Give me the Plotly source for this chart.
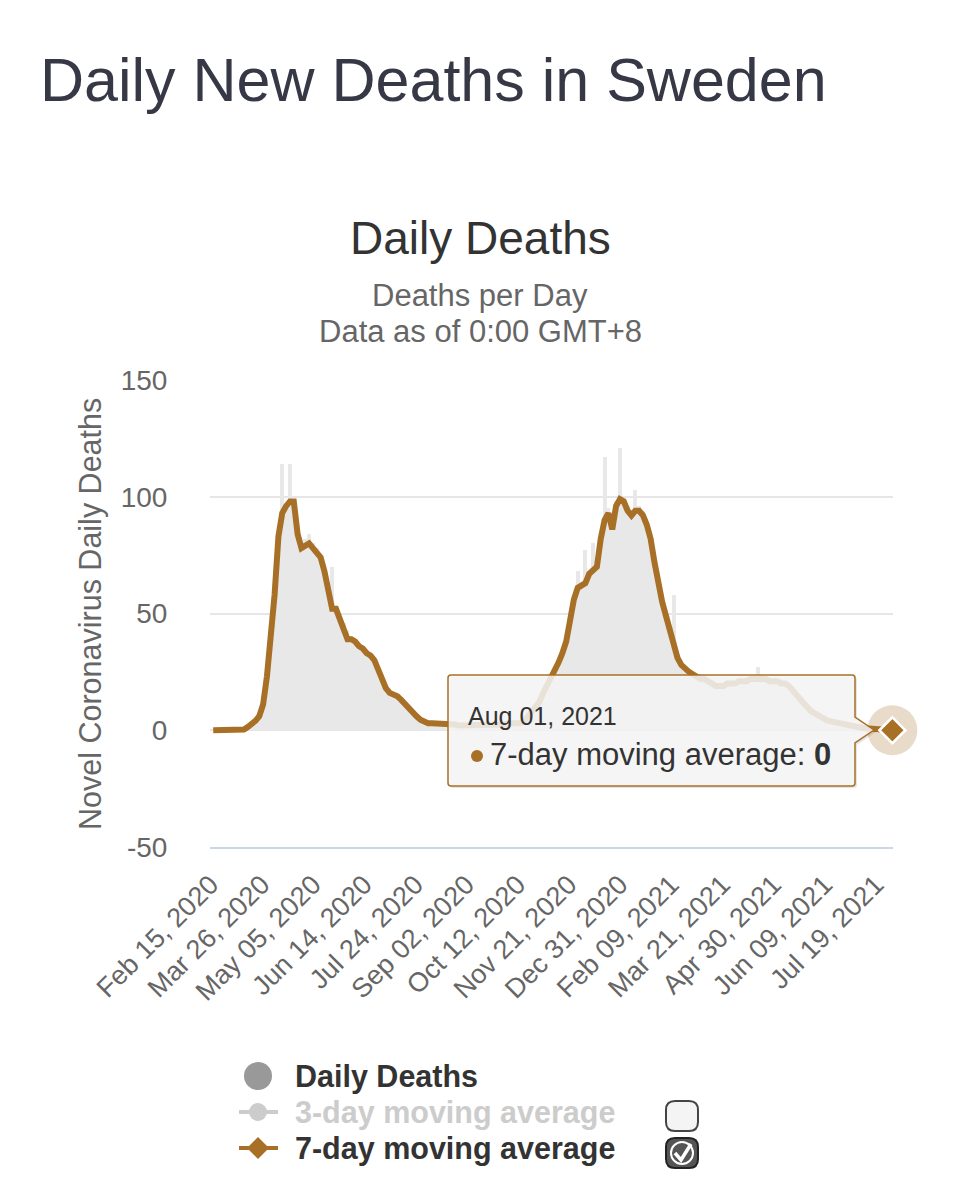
import pandas as pd
import plotly.graph_objects as go

# ---------------- data (every 3rd day) ----------------
start_date = "2020-02-17"
avg_7day = [
    0, 0, 0, 0, 0, 0, 0, 0, 0.3, 1.4,
    2.5, 4, 6, 11, 23, 38, 58, 83, 93, 96,
    98, 98, 84, 78, 79, 80, 78, 76, 74, 68,
    60, 52, 52, 48, 44, 39, 39, 38, 36, 35,
    33, 32, 30, 26, 22, 18, 16, 15.5, 14.5, 13,
    11, 9, 7.5, 6, 4.5, 3.5, 3, 3, 3, 3,
    3, 3, 2.5, 2.5, 2, 2, 2, 2, 2, 2,
    2, 2, 2, 2, 2, 2.5, 2.5, 3, 3, 3,
    3, 4, 6, 8, 10, 12, 16, 19, 22, 25,
    29, 33, 38, 47, 56, 61, 62, 63, 67, 69,
    70, 82, 90, 93, 86, 96, 99, 98, 94, 92,
    94, 94, 92, 88, 82, 72, 62, 55, 49, 43,
    35, 31, 28, 26, 25, 24, 23, 22, 22, 21,
    20, 19, 19, 19, 20, 20, 20, 21, 21, 21,
    22, 22, 22, 22, 22, 21, 21, 21, 20, 20,
    19, 17, 15, 12.5, 11, 9.5, 8, 7, 6, 5,
    4.2, 3.8, 3.4, 3.1, 2.9, 2.6, 2.2, 1.8, 1.4, 1.1,
    0.9, 0.7, 0.5, 0.4, 0.3, 0.2, 0.1, 0,
]
daily_deaths = [
    0, 0, 0, 0, 0, 0, 0, 0, 0, 1,
    2, 4, 7, 12, 26, 40, 62, 86, 114, 97,
    114, 99, 86, 80, 82, 84, 80, 78, 75, 70,
    62, 70, 53, 49, 46, 43, 40, 39, 37, 36,
    34, 33, 31, 27, 23, 19, 17, 16, 15, 13,
    11, 9, 8, 6, 5, 4, 3, 3, 3, 3,
    3, 3, 3, 3, 2, 2, 2, 2, 2, 2,
    2, 2, 2, 2, 2, 3, 3, 3, 3, 3,
    3, 4, 6, 8, 10, 13, 16, 19, 22, 26,
    30, 34, 40, 49, 58, 68, 63, 77, 68, 80,
    72, 84, 117, 95, 88, 98, 121, 100, 96, 93,
    103, 96, 94, 87, 84, 74, 63, 57, 50, 44,
    58, 32, 29, 27, 26, 25, 24, 23, 23, 22,
    21, 20, 20, 20, 21, 21, 21, 22, 22, 22,
    23, 23, 27, 23, 23, 23, 22, 22, 22, 21,
    20, 18, 16, 13, 12, 10, 9, 7, 6, 5,
    4, 4, 3, 3, 3, 3, 2, 2, 1, 1,
    1, 1, 1, 0, 0, 0, 0, 0,
]
y_ticks = [-50, 0, 50, 100, 150]
y_tick_labels = ["-50", "0", "50", "100", "150"]
legend_items = ["Daily Deaths", "3-day moving average", "7-day moving average"]

dates = pd.date_range(start_date, periods=len(avg_7day), freq="3D")

# ---------------- layout helpers ----------------
W, H = 957, 1200
L, R, T, B = 210, 893, 380, 847
FONT = "Liberation Sans, Arial, Helvetica, sans-serif"
BROWN = "#a87026"
DAY = 86400000


def X(px):
    return (px - L) / (R - L)


def Y(py):
    return (B - py) / (B - T)


def path(points_px, close=True):
    s = ""
    for i, p in enumerate(points_px):
        if p[0] == "Q":
            s += f" Q{X(p[1]):.5f},{Y(p[2]):.5f} {X(p[3]):.5f},{Y(p[4]):.5f}"
        else:
            s += (" M" if i == 0 else " L") + f"{X(p[0]):.5f},{Y(p[1]):.5f}"
    return s + (" Z" if close else "")


fig = go.Figure()

fig.add_trace(go.Bar(
    x=dates, y=daily_deaths, width=3 * DAY,
    marker=dict(color="#e8e8e8", line=dict(width=0)),
    name=legend_items[0], hoverinfo="skip",
))
fig.add_trace(go.Scatter(
    x=dates, y=avg_7day, mode="lines",
    line=dict(color=BROWN, width=6), name=legend_items[2], hoverinfo="skip",
))
# hovered point (last point of the 7-day series)
fig.add_trace(go.Scatter(
    x=[dates[-1]], y=[avg_7day[-1]], mode="markers", cliponaxis=False,
    marker=dict(size=50, color="rgba(168,112,38,0.25)", line=dict(width=0)),
    hoverinfo="skip",
))
fig.add_trace(go.Scatter(
    x=[dates[-1]], y=[avg_7day[-1]], mode="markers", cliponaxis=False,
    marker=dict(symbol="diamond", size=20, color=BROWN, line=dict(color="white", width=2.5)),
    hoverinfo="skip",
))

shapes = []
annotations = []

# tooltip (shadow + box)
tip = [(448, 678), ("Q", 448, 675, 451, 675), (852, 675), ("Q", 855, 675, 855, 678),
       (855, 717), (874, 730), (855, 743), (855, 783), ("Q", 855, 786, 852, 786),
       (451, 786), ("Q", 448, 786, 448, 783)]
shadow = [(p[0], p[1] + 2, p[2] + 2, p[3] + 2, p[4] + 2) if p[0] == "Q" else (p[0] + 2, p[1] + 2) for p in tip]
shapes.append(dict(type="path", xref="paper", yref="paper", path=path(shadow),
                   fillcolor="rgba(0,0,0,0.10)", line=dict(width=0), layer="above"))
shapes.append(dict(type="path", xref="paper", yref="paper", path=path(tip),
                   fillcolor="rgba(247,247,247,0.86)", line=dict(color=BROWN, width=1.5), layer="above"))
shapes.append(dict(type="circle", xref="paper", yref="paper", xsizemode="pixel", ysizemode="pixel",
                   xanchor=X(477), yanchor=Y(756), x0=-6, x1=6, y0=-6, y1=6,
                   fillcolor=BROWN, line=dict(width=0), layer="above"))
annotations.append(dict(xref="paper", yref="paper", x=X(466), y=Y(716), xanchor="left", yanchor="middle",
                        text=dates[-1].strftime("%b %d, %Y"), showarrow=False,
                        font=dict(family=FONT, size=25, color="#333333")))
annotations.append(dict(xref="paper", yref="paper", x=X(488), y=Y(754), xanchor="left", yanchor="middle",
                        text=f"7-day moving average: <b>{avg_7day[-1]:g}</b>", showarrow=False,
                        font=dict(family=FONT, size=31, color="#333333")))

# titles
annotations.append(dict(xref="paper", yref="paper", x=X(38), y=Y(80), xanchor="left", yanchor="middle",
                        text="Daily New Deaths in Sweden", showarrow=False,
                        font=dict(family=FONT, size=61, color="#363945")))
annotations.append(dict(xref="paper", yref="paper", x=X(480), y=Y(238), xanchor="center", yanchor="middle",
                        text="Daily Deaths", showarrow=False,
                        font=dict(family=FONT, size=46, color="#333333")))
annotations.append(dict(xref="paper", yref="paper", x=X(480), y=Y(295), xanchor="center", yanchor="middle",
                        text="Deaths per Day", showarrow=False,
                        font=dict(family=FONT, size=31, color="#666666")))
annotations.append(dict(xref="paper", yref="paper", x=X(480), y=Y(332), xanchor="center", yanchor="middle",
                        text="Data as of 0:00 GMT+8", showarrow=False,
                        font=dict(family=FONT, size=31, color="#666666")))
annotations.append(dict(xref="paper", yref="paper", x=X(90), y=Y(614), xanchor="center", yanchor="middle",
                        text="Novel Coronavirus Daily Deaths", textangle=-90, showarrow=False,
                        font=dict(family=FONT, size=30.5, color="#666666")))

# legend
leg_y = [1076, 1112, 1148]
shapes.append(dict(type="circle", xref="paper", yref="paper", xsizemode="pixel", ysizemode="pixel",
                   xanchor=X(258), yanchor=Y(leg_y[0]), x0=-14, x1=14, y0=-14, y1=14,
                   fillcolor="#999999", line=dict(width=0)))
shapes.append(dict(type="line", xref="paper", yref="paper", x0=X(239), x1=X(278), y0=Y(leg_y[1]), y1=Y(leg_y[1]),
                   line=dict(color="#cccccc", width=4)))
shapes.append(dict(type="circle", xref="paper", yref="paper", xsizemode="pixel", ysizemode="pixel",
                   xanchor=X(258), yanchor=Y(leg_y[1]), x0=-9, x1=9, y0=-9, y1=9,
                   fillcolor="#cccccc", line=dict(width=0)))
shapes.append(dict(type="line", xref="paper", yref="paper", x0=X(239), x1=X(278), y0=Y(leg_y[2]), y1=Y(leg_y[2]),
                   line=dict(color=BROWN, width=4)))
shapes.append(dict(type="path", xref="paper", yref="paper",
                   path=path([(258, leg_y[2] - 11), (269, leg_y[2]), (258, leg_y[2] + 11), (247, leg_y[2])]),
                   fillcolor=BROWN, line=dict(width=0)))
leg_colors = ["#333333", "#cccccc", "#333333"]
for name, yy, col in zip(legend_items, leg_y, leg_colors):
    annotations.append(dict(xref="paper", yref="paper", x=X(293), y=Y(yy), xanchor="left", yanchor="middle",
                            text=f"<b>{name}</b>", showarrow=False,
                            font=dict(family=FONT, size=30.5, color=col)))


def rounded_box(x0, y0, x1, y1, r):
    return [(x0, y0 + r), ("Q", x0, y0, x0 + r, y0), (x1 - r, y0), ("Q", x1, y0, x1, y0 + r),
            (x1, y1 - r), ("Q", x1, y1, x1 - r, y1), (x0 + r, y1), ("Q", x0, y1, x0, y1 - r)]


shapes.append(dict(type="path", xref="paper", yref="paper", path=path(rounded_box(666, 1101, 698, 1131, 9)),
                   fillcolor="#f4f4f4", line=dict(color="#444444", width=2)))
shapes.append(dict(type="path", xref="paper", yref="paper", path=path(rounded_box(666, 1138, 698, 1168, 9)),
                   fillcolor="#555555", line=dict(color="#222222", width=2)))
shapes.append(dict(type="circle", xref="paper", yref="paper", xsizemode="pixel", ysizemode="pixel",
                   xanchor=X(682), yanchor=Y(1153), x0=-11, x1=11, y0=-11, y1=11,
                   fillcolor="rgba(0,0,0,0)", line=dict(color="white", width=2)))
shapes.append(dict(type="path", xref="paper", yref="paper",
                   path=path([(675, 1153), (681, 1160), (691, 1144)], close=False),
                   line=dict(color="white", width=3.5)))

fig.update_layout(
    width=W, height=H,
    margin=dict(l=L, r=W - R, t=T, b=H - B, pad=0),
    paper_bgcolor="white", plot_bgcolor="white",
    showlegend=False, bargap=0,
    font=dict(family=FONT, color="#666666"),
    shapes=shapes, annotations=annotations,
    xaxis=dict(
        type="date",
        range=["2020-02-14 12:00", "2021-08-01 12:00"],
        tick0="2020-02-15", dtick=40 * DAY, tickformat="%b %d, %Y",
        tickangle=-45, tickfont=dict(family=FONT, size=27, color="#666666"),
        ticks="outside", ticklen=9, tickcolor="rgba(0,0,0,0)",
        showgrid=False, zeroline=False,
        showline=True, linecolor="#ccd6eb", linewidth=2,
    ),
    yaxis=dict(
        range=[-50, 150], tickvals=y_ticks, ticktext=y_tick_labels,
        tickfont=dict(family=FONT, size=28, color="#666666"),
        ticks="outside", ticklen=36, tickcolor="rgba(0,0,0,0)",
        showgrid=True, gridcolor="#e6e6e6", gridwidth=2,
        zeroline=False, showline=False,
    ),
)

fig.write_html("out.html")
